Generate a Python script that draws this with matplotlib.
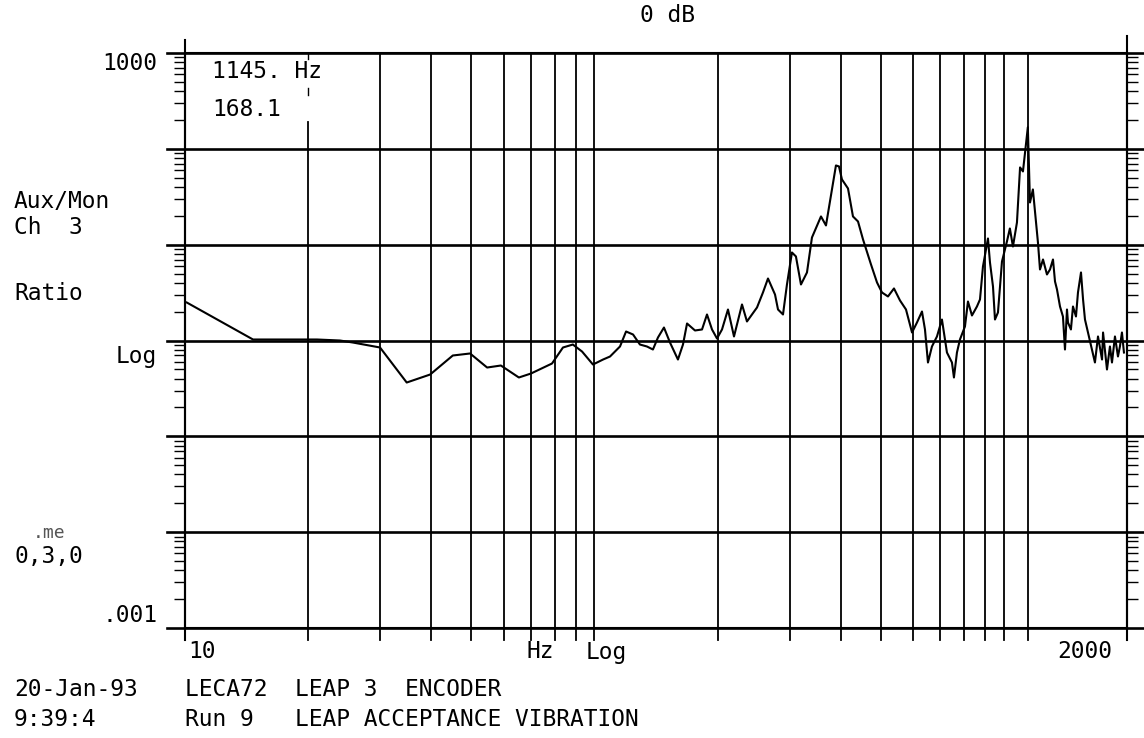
import numpy as np
import matplotlib.pyplot as plt
from matplotlib.ticker import LogLocator, NullFormatter

plt.rcParams['font.family'] = ['DejaVu Sans Mono']

# frequency (Hz) and response ratio (dB)
freq_hz = [10.1, 14.66, 17.35, 21.0, 23.9, 25.7, 29.95, 34.8, 39.7, 45.1,
           49.7, 54.7, 59.1, 65.4, 70.0, 78.8, 83.8, 88.6, 93.3, 99.2,
           105.0, 109.2, 115.5, 119.5, 124.3, 129.2, 134.4, 139.0, 143.0, 147.9,
           153.0, 160.0, 164.6, 168.4, 176.1, 183.2, 188.4, 193.8, 199.3, 205.0,
           212.0, 219.3, 229.4, 235.9, 249.6, 258.1, 265.5, 276.2, 280.9, 288.9,
           295.4, 303.8, 310.7, 319.6, 330.6, 340.0, 357.7, 367.9, 380.5, 389.1,
           395.8, 402.5, 416.4, 428.2, 440.5, 453.1, 473.9, 490.2, 504.1, 521.4,
           539.3, 557.9, 577.0, 596.9, 613.8, 631.3, 642.0, 652.9, 667.7, 686.8,
           706.3, 726.5, 747.2, 755.6, 768.5, 781.6, 803.9, 817.6, 836.2, 860.0,
           874.8, 889.6, 915.0, 925.4, 941.2, 951.8, 967.9, 990.0, 1018, 1035,
           1053, 1077, 1096, 1114, 1145, 1159, 1178, 1212, 1226, 1247,
           1275, 1297, 1319, 1334, 1349, 1372, 1395, 1411, 1427, 1435,
           1459, 1476, 1501, 1518, 1544, 1562, 1579, 1606, 1642, 1670,
           1699, 1738, 1748, 1787, 1817, 1838, 1869, 1901, 1922, 1944,
           1966]
ratio_db = [7.93, 0.21, 0.21, 0.21, 0.0, -0.42, -1.46, -8.77, -7.10, -3.13,
            -2.71, -5.64, -5.22, -7.72, -6.89, -4.80, -1.46, -0.84, -2.30, -5.01,
            -3.97, -3.34, -1.25, 1.88, 1.25, -0.84, -1.25, -1.88, 0.63, 2.71,
            -0.42, -3.97, -0.84, 3.55, 2.09, 2.30, 5.43, 2.30, 0.42, 2.30,
            6.47, 0.84, 7.52, 3.97, 6.89, 10.02, 12.94, 9.60, 6.47, 5.43,
            11.69, 18.37, 17.54, 11.69, 14.20, 21.50, 25.89, 24.01, 31.52, 36.53,
            36.33, 33.61, 31.73, 25.89, 24.84, 21.09, 15.87, 12.11, 10.02, 9.19,
            10.86, 8.35, 6.47, 1.67, 3.76, 6.05, 2.30, -4.59, -1.25, 0.84,
            4.38, -2.51, -4.59, -7.72, -2.51, 0.21, 2.92, 8.14, 5.22, 7.10,
            8.56, 15.45, 21.29, 16.28, 11.27, 4.38, 5.85, 16.49, 20.67, 23.38,
            19.62, 24.63, 36.12, 35.28, 44.51, 28.81, 31.52, 20.46, 14.82, 16.91,
            13.78, 14.82, 16.91, 12.32, 10.65, 7.10, 5.01, -1.88, 6.47, 3.76,
            2.30, 7.10, 5.01, 10.02, 14.20, 8.56, 4.38, 1.67, -1.88, -4.59,
            0.84, -3.97, 1.67, -6.05, -1.25, -4.59, 0.84, -3.34, -1.25, 1.67,
            -2.51]

grid_freqs = [30, 40, 50, 60, 70, 80, 90, 100,
              200, 300, 400, 500, 600, 700, 800, 900, 1000]
decades = [1e-3, 1e-2, 1e-1, 1, 10, 100, 1000]
cursor_hz = 1145
cursor_val = 168.1

W, H = 1144, 738
ratio = 10 ** (np.array(ratio_db) / 20.0)

fig = plt.figure(figsize=(W / 100, H / 100), dpi=100)
ax = fig.add_axes([185 / W, 110 / H, 942 / W, 575 / H])
ax.set_xscale('log')
ax.set_yscale('log')
ax.set_xlim(10, 2000)
ax.set_ylim(1e-3, 1e3)

# grid
for f in grid_freqs + [cursor_hz]:
    ax.axvline(f, ymin=-0.021, ymax=1, color='k', lw=1.3, clip_on=False)
# 20 Hz line is broken where the readout text sits
ax.axvline(20, ymin=-0.021, ymax=0.88, color='k', lw=1.3, clip_on=False)
ax.axvline(20, ymin=0.927, ymax=0.939, color='k', lw=1.0, clip_on=False)
ax.axvline(20, ymin=0.99, ymax=1.0, color='k', lw=1.0, clip_on=False)
for v in decades:
    ax.axhline(v, xmin=-0.019, xmax=1.018, color='k', lw=1.9, clip_on=False)
ax.axvline(10, ymin=-0.021, ymax=1.023, color='k', lw=1.5, clip_on=False)
ax.axvline(2000, ymin=-0.021, ymax=1.03, color='k', lw=1.5, clip_on=False)

ax.plot(freq_hz, ratio, color='k', lw=1.5)

for s in ax.spines.values():
    s.set_linewidth(1.5)
ax.yaxis.set_minor_locator(LogLocator(base=10, subs=np.arange(2, 10), numticks=20))
ax.yaxis.set_minor_formatter(NullFormatter())
ax.tick_params(axis='y', which='minor', direction='out', length=8, width=1,
               left=True, right=True)
ax.tick_params(axis='y', which='major', length=0, labelleft=False)
ax.tick_params(axis='x', which='both', length=0, labelbottom=False)


def put(x, y, s, ha='left', size=16.5, **kw):
    fig.text(x / W, 1 - y / H, s, ha=ha, va='center', fontsize=size, **kw)


put(667, 15, '0 dB', ha='center')
put(157, 63, '1000', ha='right')
put(212, 72, '%d. Hz' % cursor_hz)
put(212, 110, '%.1f' % cursor_val)
put(14, 202, 'Aux/Mon')
put(14, 228, 'Ch  3')
put(14, 293, 'Ratio')
put(157, 357, 'Log', ha='right')
put(33, 533, '.me', size=13, color='#555555')
put(14, 556, '0,3,0')
put(157, 615, '.001', ha='right')
put(188, 652, '10')
put(526, 652, 'Hz')
put(586, 652, 'Log')
put(1112, 652, '2000', ha='right')
put(14, 690, '20-Jan-93')
put(185, 690, 'LECA72  LEAP 3  ENCODER')
put(14, 720, '9:39:4')
put(185, 720, 'Run 9   LEAP ACCEPTANCE VIBRATION')

fig.savefig('out.png', dpi=100)
